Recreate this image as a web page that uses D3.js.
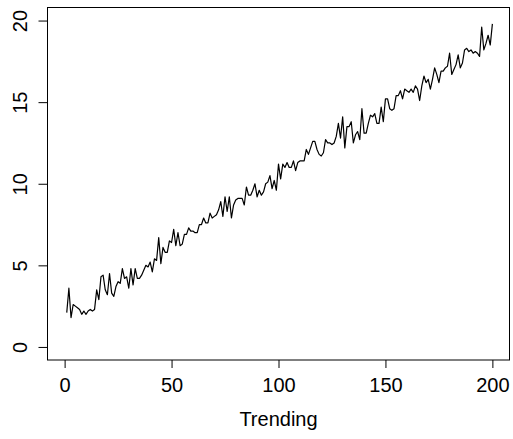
<!DOCTYPE html>
<html>
<head>
<meta charset="utf-8">
<script src="https://cdn.jsdelivr.net/npm/d3@7"></script>
<style>
  body { margin: 0; background: #fff; }
  svg { display: block; font-family: "Liberation Sans", Arial, sans-serif; }
</style>
</head>
<body>
<div id="chart"></div>
<script>
// Series values (x = 1..200)
const trending = [
  2.1, 3.6, 1.8, 2.6, 2.5, 2.4, 2.3, 2.0, 2.2, 2.0,
  2.2, 2.3, 2.2, 2.3, 3.5, 2.9, 4.3, 4.4, 3.5, 3.2,
  4.5, 3.3, 3.1, 3.7, 4.0, 3.9, 4.8, 4.2, 4.3, 3.6,
  4.8, 3.8, 4.8, 4.2, 4.2, 4.4, 4.7, 5.0, 4.9, 5.2,
  4.6, 5.4, 5.3, 6.7, 5.1, 6.1, 5.8, 5.8, 6.5, 6.4,
  7.2, 6.2, 7.0, 6.2, 6.3, 6.9, 6.9, 7.3, 7.1, 7.1,
  7.0, 7.0, 7.5, 7.5, 7.9, 7.6, 7.6, 8.2, 7.9, 8.0,
  8.1, 8.4, 8.9, 8.0, 9.2, 8.3, 9.2, 7.9, 8.7, 9.0,
  9.1, 9.1, 9.1, 8.7, 9.8, 9.3, 9.3, 9.6, 10.0, 9.2,
  9.6, 9.3, 9.5, 10.0, 10.1, 10.5, 9.7, 10.2, 9.6, 11.2,
  10.3, 11.2, 11.0, 11.3, 11.0, 11.0, 11.4, 10.8, 11.3, 11.4,
  11.4, 11.4, 12.1, 11.8, 12.2, 12.6, 12.6, 12.1, 11.8, 11.7,
  11.9, 12.7, 12.5, 12.5, 12.4, 12.5, 12.9, 13.7, 12.8, 14.1,
  12.2, 13.5, 13.5, 13.8, 12.5, 13.0, 13.2, 12.7, 14.6, 13.1,
  13.1, 13.7, 14.2, 14.1, 14.3, 13.7, 13.7, 14.7, 13.8, 15.2,
  15.2, 14.6, 14.5, 14.6, 15.4, 15.4, 15.7, 15.2, 15.8, 15.7,
  15.6, 15.8, 15.6, 16.0, 15.8, 15.1, 16.0, 16.6, 16.2, 16.4,
  15.8, 16.4, 17.1, 16.7, 16.2, 16.9, 16.9, 17.1, 17.2, 18.0,
  16.7, 17.0, 17.3, 17.9, 17.1, 17.4, 18.2, 18.3, 18.1, 18.2,
  18.0, 18.1, 18.0, 17.8, 19.6, 18.2, 18.6, 19.1, 18.5, 19.8
];
const xTicks = [0, 50, 100, 150, 200];
const yTicks = [0, 5, 10, 15, 20];
const xLabel = "Trending";

const W = 513, H = 439;
const box = { left: 47.5, right: 509.5, top: 7.5, bottom: 360 };

const svg = d3.select("#chart").append("svg")
    .attr("width", W)
    .attr("height", H);

// R style: limits padded by 4%
const x = d3.scaleLinear().domain([-8, 208]).range([box.left, box.right]);
const y = d3.scaleLinear().domain([-0.8, 20.8]).range([box.bottom, box.top]);

// Plot frame
svg.append("rect")
    .attr("x", box.left).attr("y", box.top)
    .attr("width", box.right - box.left)
    .attr("height", box.bottom - box.top)
    .attr("fill", "none")
    .attr("stroke", "#000")
    .attr("stroke-width", 1);

// Axes
const xAxis = svg.append("g")
    .attr("transform", `translate(0,${box.bottom})`)
    .call(d3.axisBottom(x).tickValues(xTicks).tickSizeOuter(0).tickSize(8).tickPadding(10));

const yAxis = svg.append("g")
    .attr("transform", `translate(${box.left},0)`)
    .call(d3.axisLeft(y).tickValues(yTicks).tickSizeOuter(0).tickSize(9));

[xAxis, yAxis].forEach(g => {
    g.select(".domain").remove();
    g.selectAll(".tick line").attr("stroke", "#000");
    g.selectAll(".tick text")
        .attr("fill", "#000")
        .style("font-size", "20px")
        .style("font-family", "'Liberation Sans', Arial, sans-serif");
});

// rotated y tick labels (R las=0)
yAxis.selectAll(".tick text")
    .attr("x", null).attr("dy", null)
    .attr("text-anchor", "middle")
    .attr("transform", "translate(-21,0) rotate(-90)");

// Line
const line = d3.line()
    .x((d, i) => x(i + 1))
    .y(d => y(d));

svg.append("path")
    .datum(trending)
    .attr("d", line)
    .attr("fill", "none")
    .attr("stroke", "#000")
    .attr("stroke-width", 1.2)
    .attr("stroke-linejoin", "round");

// x label
svg.append("text")
    .attr("x", (box.left + box.right) / 2)
    .attr("y", 426)
    .attr("text-anchor", "middle")
    .style("font-size", "20px")
    .text(xLabel);
</script>
</body>
</html>
